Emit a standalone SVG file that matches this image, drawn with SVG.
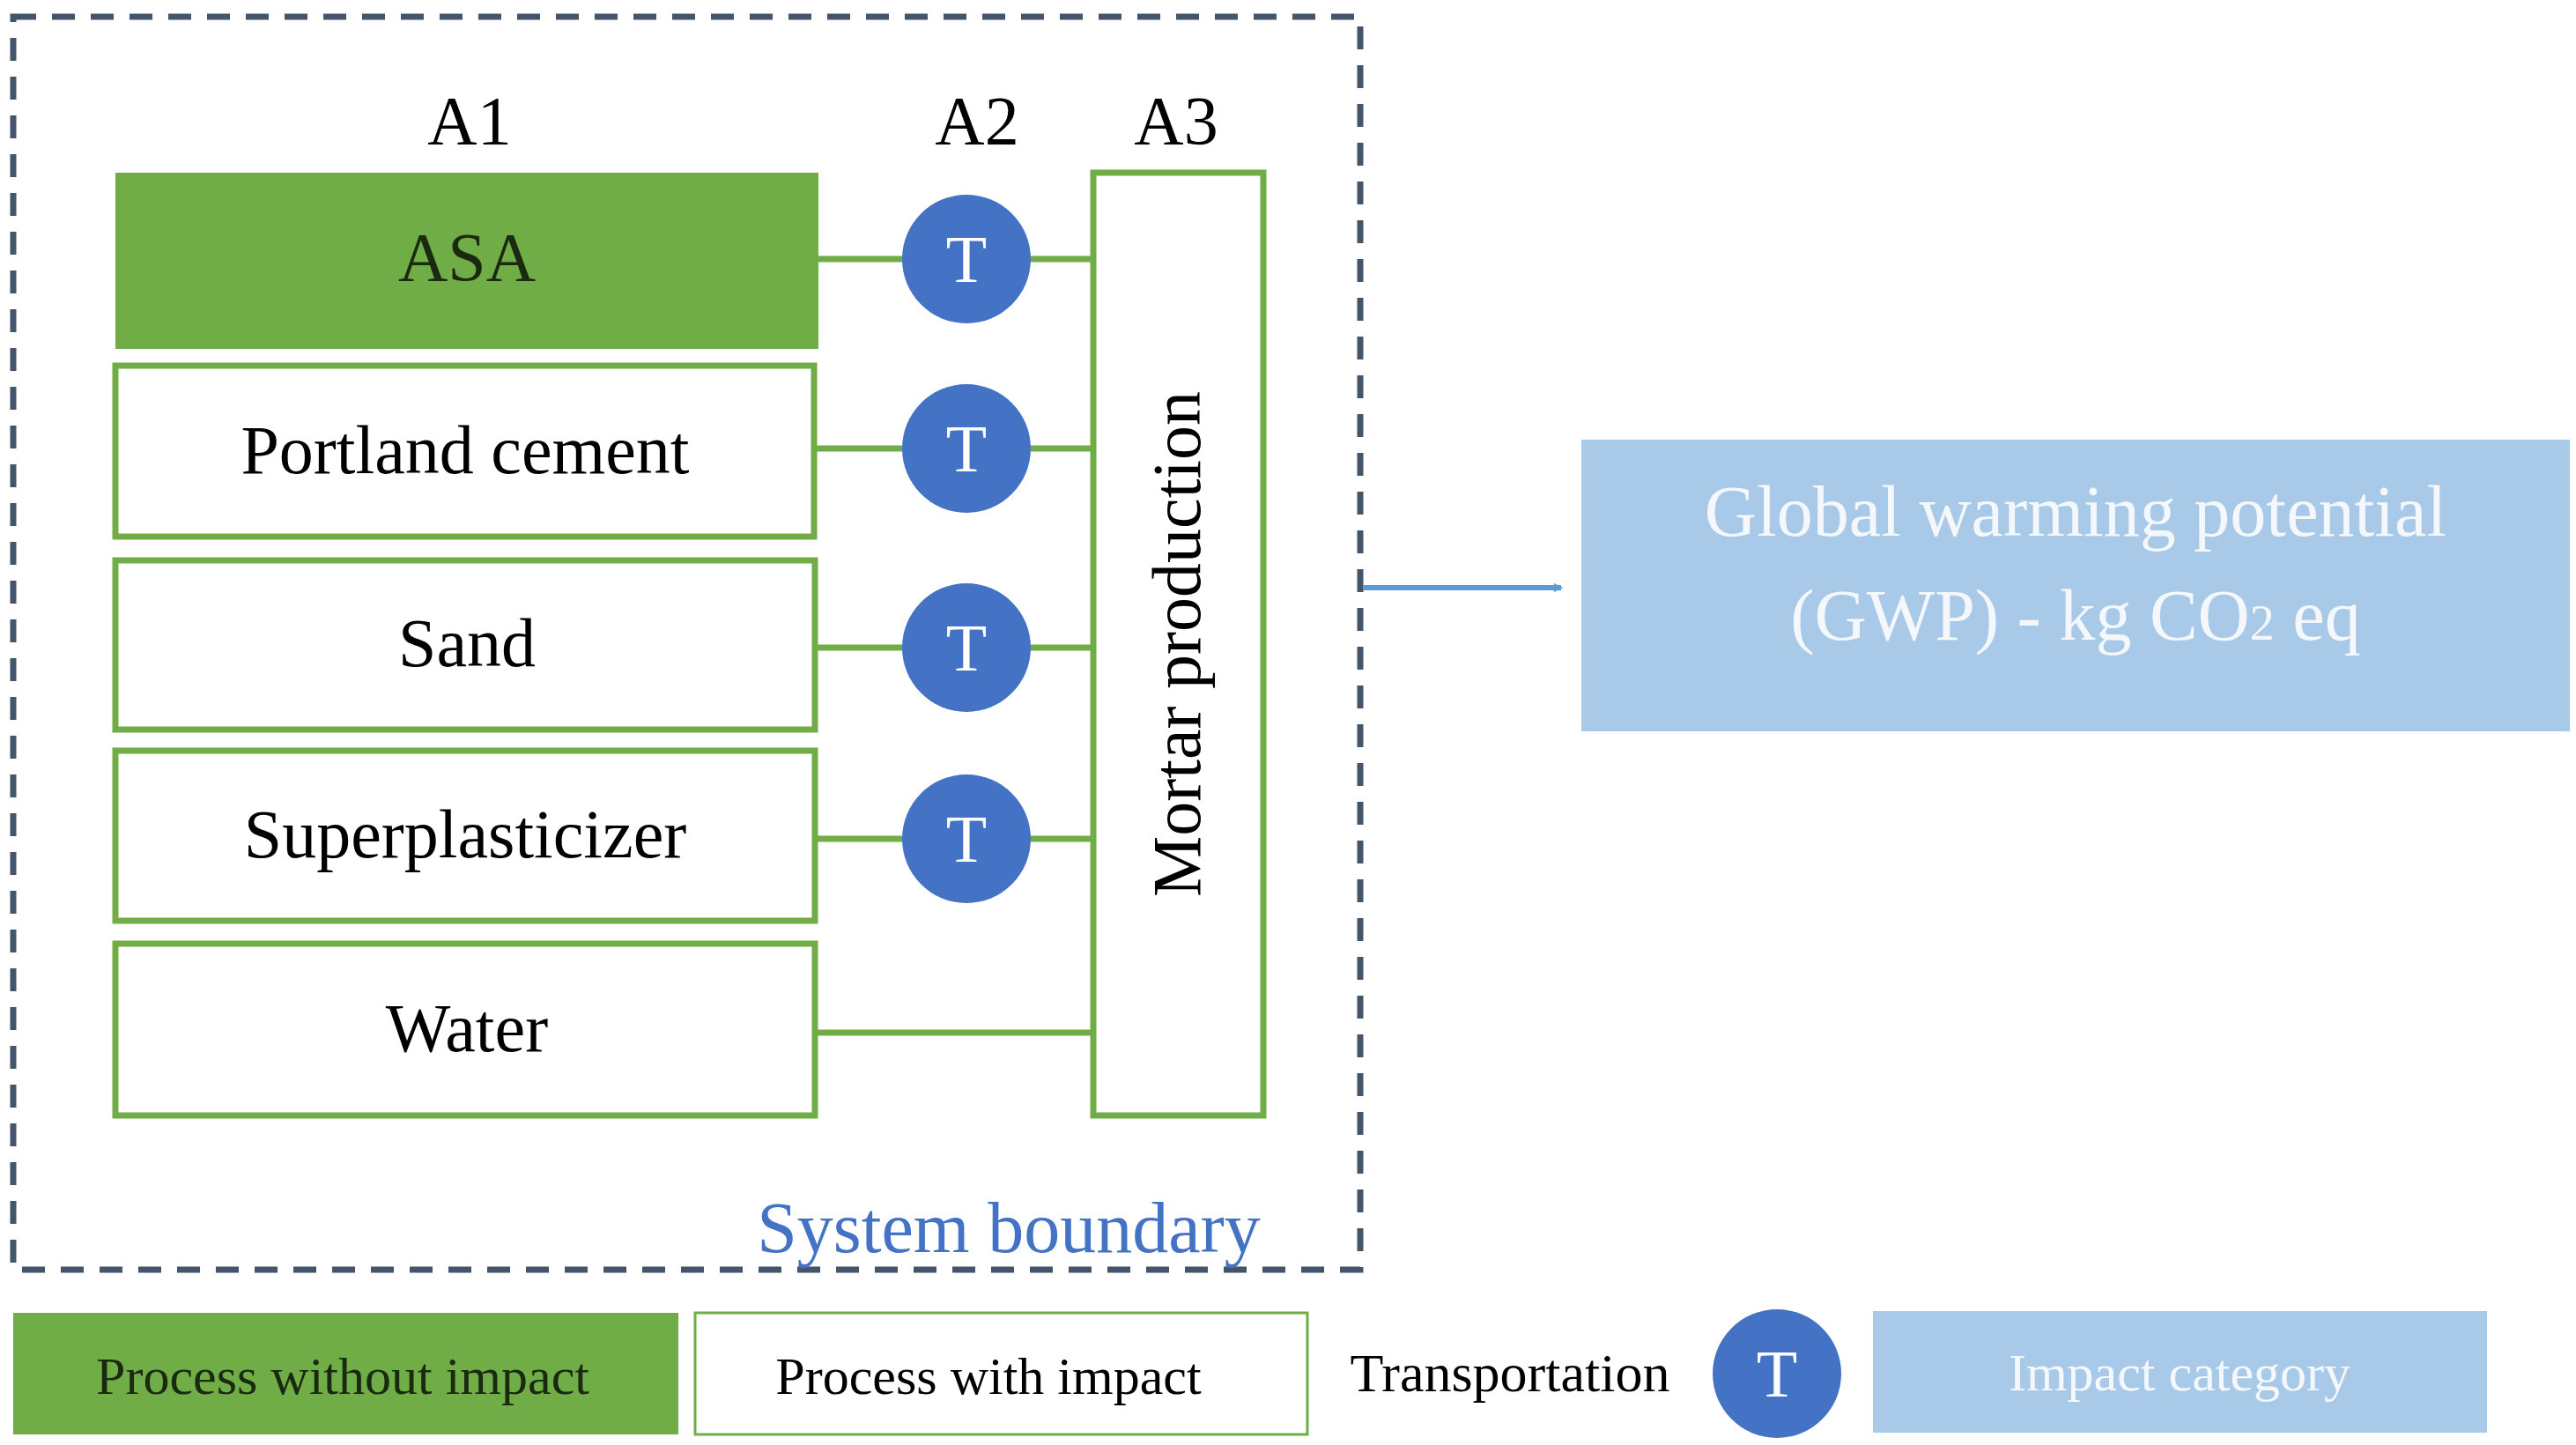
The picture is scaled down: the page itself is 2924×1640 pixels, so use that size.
<svg xmlns="http://www.w3.org/2000/svg" width="2924" height="1640" viewBox="0 0 2924 1640">
<defs>
<style>
text{font-family:"Liberation Serif","Times New Roman",serif;text-anchor:middle}
.box{fill:#fff;stroke:#70ad47;stroke-width:7}
.green{fill:#70ad47}
.t{fill:#4472c4}
.lbl{font-size:78px;fill:#000}
.tt{font-size:76px;fill:#fff}
.con{stroke:#70ad47;stroke-width:7;fill:none}
.imp{fill:#a9c9e8}
</style>
<marker id="ah" markerWidth="10" markerHeight="10" refX="8" refY="5" orient="auto" markerUnits="userSpaceOnUse" viewBox="0 0 10 10"><path d="M0,0 L10,5 L0,10 z" fill="#5b9bd5"/></marker>
</defs>
<rect width="2924" height="1640" fill="#fff"/>
<g id="boundary">
<rect x="15" y="19" width="1529" height="1422" fill="none" stroke="#44546a" stroke-width="7" stroke-dasharray="26,18"/>
<text x="1145" y="1421" style="font-size:82px;fill:#4472c4">System boundary</text>
</g>
<g id="headers">
<text x="533" y="163" class="lbl">A1</text>
<text x="1109" y="163" class="lbl">A2</text>
<text x="1335" y="163" class="lbl">A3</text>
</g>
<g id="connectors">
<line x1="929" y1="294" x2="1241" y2="294" class="con"/>
<line x1="924" y1="509" x2="1241" y2="509" class="con"/>
<line x1="925" y1="735" x2="1241" y2="735" class="con"/>
<line x1="925" y1="952" x2="1241" y2="952" class="con"/>
<line x1="925" y1="1172" x2="1241" y2="1172" class="con"/>
<line x1="1547" y1="667" x2="1772" y2="667" stroke="#5b9bd5" stroke-width="6" marker-end="url(#ah)"/>
</g>
<g id="asa"><rect x="131" y="196" width="798" height="200" class="green"/><text x="530" y="318" class="lbl" style="fill:#1a2a10">ASA</text></g>
<g id="portland"><rect x="131" y="415" width="793" height="194" class="box"/><text x="528" y="537" class="lbl">Portland cement</text></g>
<g id="sand"><rect x="131" y="636" width="794" height="192" class="box"/><text x="530" y="756" class="lbl">Sand</text></g>
<g id="superplasticizer"><rect x="131" y="852" width="794" height="193" class="box"/><text x="528" y="973" class="lbl">Superplasticizer</text></g>
<g id="water"><rect x="131" y="1071" width="794" height="195" class="box"/><text x="530" y="1193" class="lbl">Water</text></g>
<g id="t1"><circle cx="1097" cy="294" r="73" class="t"/><text x="1097" y="320" class="tt">T</text></g>
<g id="t2"><circle cx="1097" cy="509" r="73" class="t"/><text x="1097" y="535" class="tt">T</text></g>
<g id="t3"><circle cx="1097" cy="735" r="73" class="t"/><text x="1097" y="761" class="tt">T</text></g>
<g id="t4"><circle cx="1097" cy="952" r="73" class="t"/><text x="1097" y="978" class="tt">T</text></g>
<g id="mortar"><rect x="1241" y="196" width="193" height="1070" class="box"/><text transform="translate(1362,731) rotate(-90)" class="lbl">Mortar production</text></g>
<g id="gwp"><rect x="1795" y="499" width="1122" height="331" class="imp"/>
<text x="2356" y="608" style="font-size:82px;fill:#f4f8fc">Global warming potential</text>
<text x="2356" y="726" style="font-size:82px;fill:#f4f8fc">(GWP) - kg CO<tspan font-size="56">2</tspan> eq</text></g>
<g id="legend">
<rect x="15" y="1490" width="755" height="138" class="green"/>
<text x="389" y="1582" style="font-size:60px;fill:#1a2a10">Process without impact</text>
<rect x="789" y="1490" width="695" height="138" fill="#fff" stroke="#70ad47" stroke-width="3"/>
<text x="1122" y="1582" style="font-size:60px">Process with impact</text>
<text x="1714" y="1579" style="font-size:62px">Transportation</text>
<circle cx="2017" cy="1559" r="73" class="t"/><text x="2017" y="1585" class="tt">T</text>
<rect x="2126" y="1488" width="697" height="138" class="imp"/>
<text x="2474" y="1578" style="font-size:60px;fill:#f4f8fc">Impact category</text>
</g>
</svg>
